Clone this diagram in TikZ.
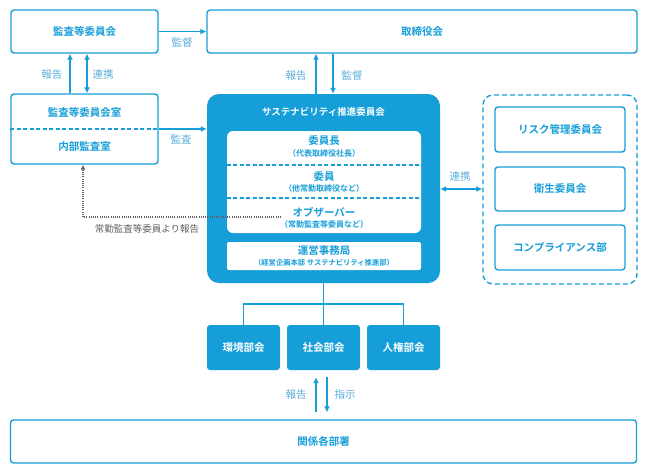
\documentclass[tikz,border=0pt]{standalone}
\usepackage{fontspec}
\setmainfont{Noto Sans CJK JP}[BoldFont={Noto Sans CJK JP Bold}]
\usetikzlibrary{arrows.meta}
\definecolor{sblue}{RGB}{22,158,216}
\definecolor{slabel}{RGB}{88,172,218}
\definecolor{sgray}{RGB}{95,95,95}
\newcommand{\boxfont}{\bfseries\fontsize{10.5}{12}\selectfont}
\newcommand{\subfont}{\bfseries\fontsize{8}{9}\selectfont}

\begin{document}
\begin{tikzpicture}[x=1pt,y=-1pt,
  box/.style={draw=sblue,line width=1.4pt,rounded corners=3pt,fill=white,
    text=sblue,font=\boxfont,inner sep=0pt},
  bluebox/.style={fill=sblue,rounded corners=3pt,text=white,font=\boxfont,inner sep=0pt},
  txt/.style={text=sblue,font=\boxfont,inner sep=0pt},
  subtxt/.style={text=sblue,font=\subfont,inner sep=0pt},
  lbl/.style={text=slabel,font=\fontsize{10.5}{12}\selectfont,inner sep=0pt},
  arr/.style={draw=sblue,line width=1.3pt,-{Latex[length=6pt,width=6pt]}},
  dblarr/.style={draw=sblue,line width=1.3pt,{Latex[length=6pt,width=6pt]}-{Latex[length=6pt,width=6pt]}},
  conn/.style={draw=sblue,line width=1.3pt}]
  \useasboundingbox (0,0) rectangle (648,474);

  % top row
  \node[box,minimum width=147pt,minimum height=43pt] (kansa) at (84.5,31.5) {監査等委員会};
  \node[box,minimum width=430pt,minimum height=43pt] (board) at (422,31.5) {取締役会};
  \draw[arr] (kansa.east) -- (board.west);
  \node[lbl] (l-kantoku1) at (182,43) {監督};

  % audit office
  \node[box,minimum width=147pt,minimum height=70pt] (office) at (84.5,129) {};
  \draw[sblue,line width=1.3pt,dash pattern=on 4pt off 2.5pt] (office.west) -- (office.east);
  \node[txt] (office-top) at (84.5,112) {監査等委員会室};
  \node[txt] (office-bot) at (84.5,147) {内部監査室};
  \draw[arr] ([xshift=-14.5pt]office.north) -- ([xshift=-14.5pt]kansa.south);
  \draw[dblarr] ([xshift=2.5pt]office.north) -- ([xshift=2.5pt]kansa.south);
  \node[lbl] (l-houkoku1) at (52,75) {報告};
  \node[lbl] (l-renkei1) at (103,75) {連携};

  % sustainability committee
  \node[fill=sblue,rounded corners=12pt,minimum width=233pt,minimum height=189pt,inner sep=0pt]
    (sus) at (323.5,188.5) {};
  \node[text=white,font=\bfseries\fontsize{9.5}{11}\selectfont,inner sep=0pt] (sus-title) at (323.5,112)
    {サステナビリティ推進委員会};
  \node[fill=white,rounded corners=6pt,minimum width=194pt,minimum height=102pt,inner sep=0pt]
    (members) at (324,182) {};
  \draw[sblue,line width=1.3pt,dash pattern=on 4pt off 2.5pt] (members.west |- 0,165) -- (members.east |- 0,165);
  \draw[sblue,line width=1.3pt,dash pattern=on 4pt off 2.5pt] (members.west |- 0,198) -- (members.east |- 0,198);
  \node[txt] (chair) at (324,141) {委員長};
  \node[subtxt] (chair-sub) at (324,153) {（代表取締役社長）};
  \node[txt] (member) at (324,177) {委員};
  \node[subtxt] (member-sub) at (324,188) {（他常勤取締役など）};
  \node[txt] (observer) at (324,212) {オブザーバー};
  \node[subtxt] (observer-sub) at (324,224) {（常勤監査等委員など）};
  \node[fill=white,rounded corners=2pt,minimum width=194pt,minimum height=28pt,inner sep=0pt]
    (secretariat) at (324,256) {};
  \node[txt] (sec-title) at (324,251) {運営事務局};
  \node[subtxt,font=\bfseries\fontsize{7.3}{8}\selectfont] (sec-sub) at (324,263)
    {（経営企画本部 サステナビリティ推進部）};

  \draw[arr] (office.east) -- (office.east -| sus.west);
  \node[lbl] (l-kansa) at (181,139) {監査};
  \draw[arr] ([xshift=-7.5pt]sus.north) -- ([xshift=-7.5pt]sus.north |- board.south);
  \draw[arr] ([xshift=9.5pt]sus.north |- board.south) -- ([xshift=9.5pt]sus.north);
  \node[lbl] (l-houkoku2) at (296,76) {報告};
  \node[lbl] (l-kantoku2) at (352,76) {監督};

  % report from full-time audit members
  \coordinate (obs-end) at (281,217);
  \draw[sgray,line width=1.1pt,dash pattern=on 1pt off 1.2pt,-{Latex[length=5pt,width=5pt]}]
    (obs-end) -- (83,217) -- (office.south -| 83,0);
  \node[text=sgray,font=\fontsize{9.5}{11}\selectfont,inner sep=0pt] (l-joukin) at (147,229)
    {常勤監査等委員より報告};

  % other committees
  \node[draw=sblue,line width=1.4pt,dash pattern=on 5pt off 3pt,rounded corners=10pt,minimum width=154pt,
    minimum height=189pt,inner sep=0pt] (group) at (560,189.5) {};
  \node[box,minimum width=130pt,minimum height=45pt] (risk) at (560,129.5) {リスク管理委員会};
  \node[box,minimum width=130pt,minimum height=44pt] (health) at (560,189) {衛生委員会};
  \node[box,minimum width=130pt,minimum height=45pt] (comp) at (560,247.5) {コンプライアンス部};
  \draw[dblarr] (sus.east |- 0,189) -- (group.west |- 0,189);
  \node[lbl] (l-renkei2) at (460,177) {連携};

  % subcommittees
  \foreach \name/\x/\label in {env/243.5/環境部会, soc/323.5/社会部会, hr/403.5/人権部会}
    \node[bluebox,minimum width=73pt,minimum height=45pt] (\name) at (\x,347.5) {\label};
  \coordinate (split) at (323.5,304);
  \draw[conn] (sus.south) -- (soc.north);
  \draw[conn] (env.north) |- (split) -| (hr.north);

  % departments
  \node[box,minimum width=626pt,minimum height=43pt] (dept) at (323.5,441.5) {関係各部署};
  \draw[arr,shorten <=7pt,shorten >=7pt] ([xshift=-7.5pt]dept.north) -- ([xshift=-7.5pt]soc.south);
  \draw[arr,shorten <=7pt,shorten >=7pt] ([xshift=3.5pt]soc.south) -- ([xshift=3.5pt]dept.north);
  \node[lbl] (l-houkoku3) at (296,395) {報告};
  \node[lbl] (l-shiji) at (345,395) {指示};
\end{tikzpicture}
\end{document}
